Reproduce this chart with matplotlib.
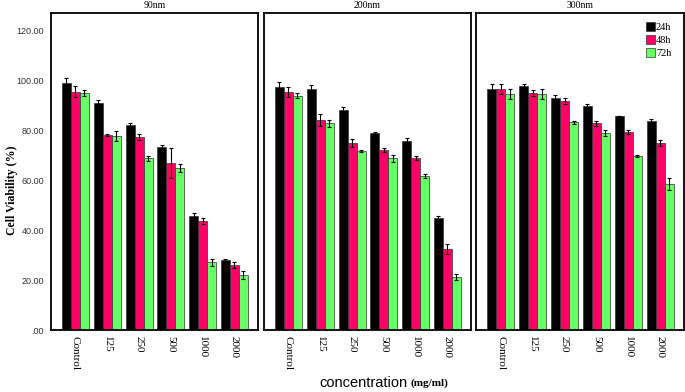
import numpy as np
import matplotlib
matplotlib.use("Agg")
import matplotlib.pyplot as plt
from matplotlib.patches import Patch

# data
conc = ['Control', '125', '250', '500', '1000', '2000']
sizes = ['90nm', '200nm', '300nm']
times = ['24h', '48h', '72h']

# 90nm
nm90_24 = [98.7, 91.0, 81.9, 73.1, 45.6, 27.9]
nm90_48 = [95.3, 78.0, 77.1, 66.9, 43.5, 25.9]
nm90_72 = [94.8, 77.6, 68.7, 64.9, 27.1, 22.0]
err90_24 = [2.0, 1.2, 1.0, 1.0, 1.2, 0.5]
err90_48 = [2.2, 0.5, 1.2, 6.0, 1.2, 1.2]
err90_72 = [1.2, 2.0, 1.0, 1.5, 1.5, 1.5]

# 200nm
nm200_24 = [97.3, 96.5, 87.9, 78.9, 75.7, 44.8]
nm200_48 = [95.2, 84.1, 74.8, 71.9, 68.9, 32.5]
nm200_72 = [93.7, 82.7, 71.7, 68.7, 61.5, 21.2]
err200_24 = [2.0, 1.5, 1.5, 0.5, 1.2, 1.0]
err200_48 = [2.0, 2.5, 1.5, 0.8, 0.8, 2.0]
err200_72 = [1.0, 1.5, 0.5, 1.5, 0.8, 1.2]

# 300nm
nm300_24 = [96.3, 97.7, 92.9, 89.7, 85.5, 83.6]
nm300_48 = [96.3, 94.8, 91.6, 82.7, 79.2, 74.8]
nm300_72 = [94.4, 94.4, 83.1, 78.7, 69.7, 58.4]
err300_24 = [2.0, 0.8, 1.2, 0.8, 0.0, 1.0]
err300_48 = [2.0, 1.2, 1.2, 1.0, 0.8, 1.2]
err300_72 = [2.0, 2.0, 0.5, 1.2, 0.5, 2.5]

panels = [
    (sizes[0], [nm90_24, nm90_48, nm90_72], [err90_24, err90_48, err90_72]),
    (sizes[1], [nm200_24, nm200_48, nm200_72], [err200_24, err200_48, err200_72]),
    (sizes[2], [nm300_24, nm300_48, nm300_72], [err300_24, err300_48, err300_72]),
]
colors = ['#000000', '#FF0066', '#66FF66']
serif = 'Liberation Serif'
sans = 'Liberation Sans'

fig = plt.figure(figsize=(6.85, 3.92), dpi=100)
lefts = [51, 264, 476]
widths = [207, 207, 208]
bot, top = 330, 13
x = np.arange(len(conc))
bw = 0.283

axes = []
for k, (title, vals, errs) in enumerate(panels):
    ax = fig.add_axes([lefts[k] / 685, 1 - bot / 392, widths[k] / 685, (bot - top) / 392])
    for i in range(3):
        ax.bar(x + (i - 1) * bw, vals[i], bw, color=colors[i], edgecolor='#333333',
               linewidth=0.5, yerr=errs[i], error_kw=dict(ecolor='black', elinewidth=0.8,
                                                          capsize=1.2, capthick=0.8))
    ax.set_xlim(-0.77, 5.74)
    ax.set_ylim(0, 126.8)
    ax.set_xticks(x)
    ax.set_xticklabels(conc, rotation=270, fontsize=8, family=serif)
    ax.tick_params(axis='x', length=0, pad=4)
    ax.set_yticks(np.arange(0, 121, 20))
    if k == 0:
        ax.set_yticklabels(['.00', '20.00', '40.00', '60.00', '80.00', '100.00', '120.00'],
                           fontsize=6.5, family=sans, color='#333333')
        ax.tick_params(axis='y', length=0, pad=5)
    else:
        ax.tick_params(axis='y', length=0, labelleft=False)
    for s in ax.spines.values():
        s.set_linewidth(1.3)
    fig.text((lefts[k] + widths[k] / 2) / 685, 1 - 5 / 392, title, ha='center', va='center',
             fontsize=7, family=serif)
    axes.append(ax)

handles = [Patch(facecolor=c, edgecolor='#333333', linewidth=0.5) for c in colors]
axes[2].legend(handles, times, loc='upper right', bbox_to_anchor=(0.975, 0.995), frameon=False,
               prop={'family': serif, 'size': 7.5}, handlelength=0.9, handleheight=1.0,
               handletextpad=0.1, labelspacing=0.25, borderaxespad=0.3)

fig.text(12 / 685, 1 - 190 / 392, 'Cell Viability (%)', rotation=90, ha='center', va='center',
         fontsize=8.5, family=serif, fontweight='bold')
fig.text(407 / 685, 1 - 383 / 392, 'concentration', ha='right', va='center', fontsize=10.5,
         family=sans)
fig.text(410 / 685, 1 - 383 / 392, '(mg/ml)', ha='left', va='center', fontsize=8,
         family=serif, fontweight='bold')

fig.savefig('out.png', dpi=100)
